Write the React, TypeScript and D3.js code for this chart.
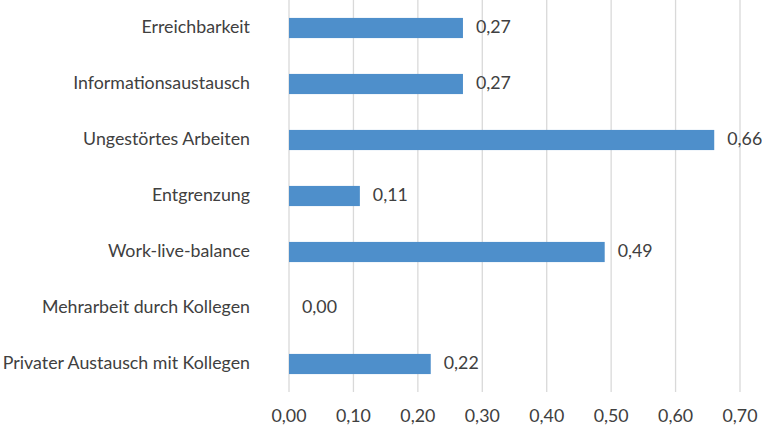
import React from "react";
import * as d3 from "d3";

const categories = [
  "Erreichbarkeit",
  "Informationsaustausch",
  "Ungestörtes Arbeiten",
  "Entgrenzung",
  "Work-live-balance",
  "Mehrarbeit durch Kollegen",
  "Privater Austausch mit Kollegen",
];
const values = [0.27, 0.27, 0.66, 0.11, 0.49, 0.0, 0.22];
const ticks = [0, 0.1, 0.2, 0.3, 0.4, 0.5, 0.6, 0.7];

const W = 762;
const H = 429;
const fmt = (v: number) => v.toFixed(2).replace(".", ",");

export default function App() {
  const x = d3.scaleLinear().domain([0, 0.7]).range([289, 740]);
  const y = d3.scaleBand<string>().domain(categories).range([0, 392]).paddingInner(0.64).paddingOuter(0.32);
  const font = "Lato, sans-serif";
  const fs = 17.8;
  const color = "#404040";
  return (
    <svg width={W} height={H} style={{ position: "absolute", left: 0, top: 0 }}>
      <rect width={W} height={H} fill="#fff" />
      {ticks.map((t) => (
        <g key={t}>
          <line x1={x(t)} x2={x(t)} y1={0} y2={392} stroke="#d9d9d9" strokeWidth={1.3} />
          <text x={x(t)} y={417} textAnchor="middle" dominantBaseline="middle" fontFamily={font} fontSize={fs} fill={color}>
            {fmt(t)}
          </text>
        </g>
      ))}
      {categories.map((c, i) => {
        const yy = y(c)!;
        const bw = y.bandwidth();
        return (
          <g key={c}>
            <rect x={x(0)} y={yy} width={x(values[i]) - x(0)} height={bw} fill="#4e8fcb" />
            <text x={x(values[i]) + 13} y={yy + bw / 2} dominantBaseline="middle" fontFamily={font} fontSize={fs} fill={color}>
              {fmt(values[i])}
            </text>
            <text x={250} y={yy + bw / 2} textAnchor="end" dominantBaseline="middle" fontFamily={font} fontSize={fs} fill={color}>
              {c}
            </text>
          </g>
        );
      })}
    </svg>
  );
}
